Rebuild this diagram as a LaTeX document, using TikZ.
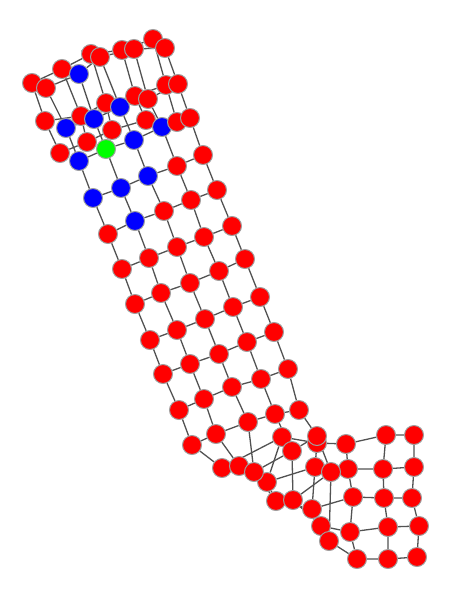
\documentclass[tikz,border=0pt]{standalone}
\usepackage{tikz}
\usetikzlibrary{backgrounds}

\tikzset{
  dot/.style={circle, draw=gray!75, line width=1pt, fill=red, minimum size=19pt, inner sep=0pt},
  bdot/.style={dot, fill=blue},
  gdot/.style={dot, fill=green},
  edge/.style={draw=black!68, line width=1.3pt}
}

\begin{document}
\begin{tikzpicture}[x=1pt, y=-1pt]
    % 画布大小
    \useasboundingbox (0,0) rectangle (452,600);

    % 第 0 列 (行 0-19)
    \node[dot] (r0c0) at (60,153) {};   \node[dot] (r1c0) at (45,121) {};   \node[dot] (r2c0) at (32,83) {};
    \node[dot] (r3c0) at (46,88) {};    \node[bdot] (r4c0) at (66,128) {};  \node[bdot] (r5c0) at (79,161) {};
    \node[bdot] (r6c0) at (93,198) {};  \node[dot] (r7c0) at (108,234) {};  \node[dot] (r8c0) at (122,269) {};
    \node[dot] (r9c0) at (135,304) {};  \node[dot] (r10c0) at (150,340) {}; \node[dot] (r11c0) at (163,374) {};
    \node[dot] (r12c0) at (179,410) {}; \node[dot] (r13c0) at (192,445) {}; \node[dot] (r14c0) at (222,468) {};
    \node[dot] (r15c0) at (282,437) {}; \node[dot] (r16c0) at (317,443) {}; \node[dot] (r17c0) at (346,444) {};
    \node[dot] (r18c0) at (386,435) {}; \node[dot] (r19c0) at (414,435) {};

    % 第 1 列, 绿点在第 5 行
    \node[dot] (r0c1) at (87,142) {};   \node[dot] (r1c1) at (81,116) {};   \node[dot] (r2c1) at (62,69) {};
    \node[bdot] (r3c1) at (79,74) {};   \node[bdot] (r4c1) at (94,119) {};  \node[gdot] (r5c1) at (106,149) {};
    \node[bdot] (r6c1) at (121,188) {}; \node[bdot] (r7c1) at (135,221) {}; \node[dot] (r8c1) at (149,258) {};
    \node[dot] (r9c1) at (161,293) {};  \node[dot] (r10c1) at (177,330) {}; \node[dot] (r11c1) at (190,364) {};
    \node[dot] (r12c1) at (204,399) {}; \node[dot] (r13c1) at (216,434) {}; \node[dot] (r14c1) at (239,466) {};
    \node[dot] (r15c1) at (267,482) {}; \node[dot] (r16c1) at (315,467) {}; \node[dot] (r17c1) at (348,469) {};
    \node[dot] (r18c1) at (383,469) {}; \node[dot] (r19c1) at (414,467) {};

    % 第 2 列
    \node[dot] (r0c2) at (112,130) {};  \node[dot] (r1c2) at (106,103) {};  \node[dot] (r2c2) at (91,54) {};
    \node[dot] (r3c2) at (100,57) {};   \node[bdot] (r4c2) at (120,107) {}; \node[bdot] (r5c2) at (134,140) {};
    \node[bdot] (r6c2) at (148,176) {}; \node[dot] (r7c2) at (164,211) {};  \node[dot] (r8c2) at (177,247) {};
    \node[dot] (r9c2) at (190,283) {};  \node[dot] (r10c2) at (205,319) {}; \node[dot] (r11c2) at (219,354) {};
    \node[dot] (r12c2) at (232,387) {}; \node[dot] (r13c2) at (248,422) {}; \node[dot] (r14c2) at (254,472) {};
    \node[dot] (r15c2) at (276,501) {}; \node[dot] (r16c2) at (312,509) {}; \node[dot] (r17c2) at (353,497) {};
    \node[dot] (r18c2) at (384,498) {}; \node[dot] (r19c2) at (412,498) {};

    % 第 3 列
    \node[dot] (r0c3) at (146,120) {};  \node[dot] (r1c3) at (135,96) {};   \node[dot] (r2c3) at (122,50) {};
    \node[dot] (r3c3) at (134,49) {};   \node[dot] (r4c3) at (148,99) {};   \node[bdot] (r5c3) at (162,127) {};
    \node[dot] (r6c3) at (177,166) {};  \node[dot] (r7c3) at (191,200) {};  \node[dot] (r8c3) at (204,237) {};
    \node[dot] (r9c3) at (219,271) {};  \node[dot] (r10c3) at (233,307) {}; \node[dot] (r11c3) at (247,342) {};
    \node[dot] (r12c3) at (261,379) {}; \node[dot] (r13c3) at (275,414) {}; \node[dot] (r14c3) at (292,451) {};
    \node[dot] (r15c3) at (293,500) {}; \node[dot] (r16c3) at (321,526) {}; \node[dot] (r17c3) at (350,532) {};
    \node[dot] (r18c3) at (388,527) {}; \node[dot] (r19c3) at (419,526) {};

    % 第 4 列
    \node[dot] (r0c4) at (177,122) {};  \node[dot] (r1c4) at (166,85) {};   \node[dot] (r2c4) at (153,39) {};
    \node[dot] (r3c4) at (165,48) {};   \node[dot] (r4c4) at (178,84) {};   \node[dot] (r5c4) at (190,118) {};
    \node[dot] (r6c4) at (203,155) {};  \node[dot] (r7c4) at (217,190) {};  \node[dot] (r8c4) at (232,226) {};
    \node[dot] (r9c4) at (245,259) {};  \node[dot] (r10c4) at (260,297) {}; \node[dot] (r11c4) at (274,332) {};
    \node[dot] (r12c4) at (288,369) {}; \node[dot] (r13c4) at (299,410) {}; \node[dot] (r14c4) at (317,436) {};
    \node[dot] (r15c4) at (331,472) {}; \node[dot] (r16c4) at (329,541) {}; \node[dot] (r17c4) at (357,559) {};
    \node[dot] (r18c4) at (388,559) {}; \node[dot] (r19c4) at (417,557) {};

    \begin{scope}[on background layer]
    % 每行内的连线
    \draw[edge] (r0c0) -- (r0c1) -- (r0c2) -- (r0c3) -- (r0c4);
    \draw[edge] (r1c0) -- (r1c1) -- (r1c2) -- (r1c3) -- (r1c4);
    \draw[edge] (r2c0) -- (r2c1) -- (r2c2) -- (r2c3) -- (r2c4);
    \draw[edge] (r3c0) -- (r3c1) -- (r3c2) -- (r3c3) -- (r3c4);
    \draw[edge] (r4c0) -- (r4c1) -- (r4c2) -- (r4c3) -- (r4c4);
    \draw[edge] (r5c0) -- (r5c1) -- (r5c2) -- (r5c3) -- (r5c4);
    \draw[edge] (r6c0) -- (r6c1) -- (r6c2) -- (r6c3) -- (r6c4);
    \draw[edge] (r7c0) -- (r7c1) -- (r7c2) -- (r7c3) -- (r7c4);
    \draw[edge] (r8c0) -- (r8c1) -- (r8c2) -- (r8c3) -- (r8c4);
    \draw[edge] (r9c0) -- (r9c1) -- (r9c2) -- (r9c3) -- (r9c4);
    \draw[edge] (r10c0) -- (r10c1) -- (r10c2) -- (r10c3) -- (r10c4);
    \draw[edge] (r11c0) -- (r11c1) -- (r11c2) -- (r11c3) -- (r11c4);
    \draw[edge] (r12c0) -- (r12c1) -- (r12c2) -- (r12c3) -- (r12c4);
    \draw[edge] (r13c0) -- (r13c1) -- (r13c2) -- (r13c3) -- (r13c4);
    \draw[edge] (r14c0) -- (r14c1) -- (r14c2) -- (r14c3) -- (r14c4);
    \draw[edge] (r15c0) -- (r15c1) -- (r15c2) -- (r15c3) -- (r15c4);
    \draw[edge] (r16c0) -- (r16c1) -- (r16c2) -- (r16c3) -- (r16c4);
    \draw[edge] (r17c0) -- (r17c1) -- (r17c2) -- (r17c3) -- (r17c4);
    \draw[edge] (r18c0) -- (r18c1) -- (r18c2) -- (r18c3) -- (r18c4);
    \draw[edge] (r19c0) -- (r19c1) -- (r19c2) -- (r19c3) -- (r19c4);

    % 行与行之间的连线 (按列)
    \draw[edge] (r0c0) -- (r1c0) -- (r2c0) -- (r3c0) -- (r4c0) -- (r5c0) -- (r6c0) -- (r7c0) -- (r8c0) -- (r9c0)
        -- (r10c0) -- (r11c0) -- (r12c0) -- (r13c0) -- (r14c0) -- (r15c0) -- (r16c0) -- (r17c0) -- (r18c0) -- (r19c0);
    \draw[edge] (r0c1) -- (r1c1) -- (r2c1) -- (r3c1) -- (r4c1) -- (r5c1) -- (r6c1) -- (r7c1) -- (r8c1) -- (r9c1)
        -- (r10c1) -- (r11c1) -- (r12c1) -- (r13c1) -- (r14c1) -- (r15c1) -- (r16c1) -- (r17c1) -- (r18c1) -- (r19c1);
    \draw[edge] (r0c2) -- (r1c2) -- (r2c2) -- (r3c2) -- (r4c2) -- (r5c2) -- (r6c2) -- (r7c2) -- (r8c2) -- (r9c2)
        -- (r10c2) -- (r11c2) -- (r12c2) -- (r13c2) -- (r14c2) -- (r15c2) -- (r16c2) -- (r17c2) -- (r18c2) -- (r19c2);
    \draw[edge] (r0c3) -- (r1c3) -- (r2c3) -- (r3c3) -- (r4c3) -- (r5c3) -- (r6c3) -- (r7c3) -- (r8c3) -- (r9c3)
        -- (r10c3) -- (r11c3) -- (r12c3) -- (r13c3) -- (r14c3) -- (r15c3) -- (r16c3) -- (r17c3) -- (r18c3) -- (r19c3);
    \draw[edge] (r0c4) -- (r1c4) -- (r2c4) -- (r3c4) -- (r4c4) -- (r5c4) -- (r6c4) -- (r7c4) -- (r8c4) -- (r9c4)
        -- (r10c4) -- (r11c4) -- (r12c4) -- (r13c4) -- (r14c4) -- (r15c4) -- (r16c4) -- (r17c4) -- (r18c4) -- (r19c4);
    \end{scope}
\end{tikzpicture}
\end{document}
